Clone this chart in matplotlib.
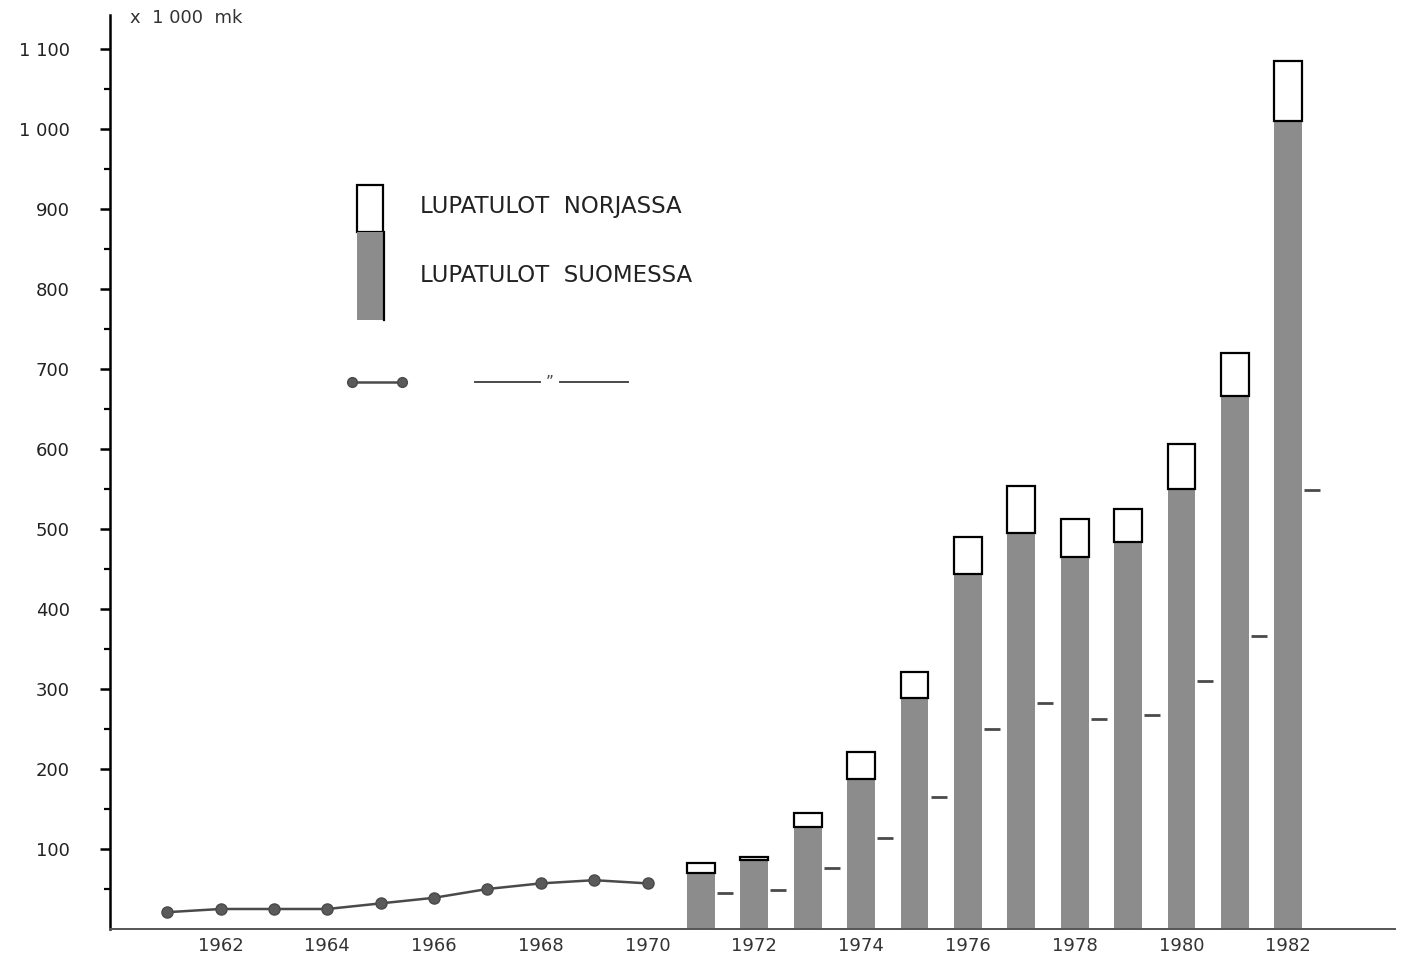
import matplotlib
matplotlib.use("Agg")
import matplotlib.pyplot as plt
from matplotlib.patches import Rectangle
from matplotlib.lines import Line2D

# Licence revenues, x 1000 mk
line_years = [1961, 1962, 1963, 1964, 1965, 1966, 1967, 1968, 1969, 1970]
line_values = [21, 25, 25, 25, 32, 39, 50, 57, 61, 57]

bar_years = [1971, 1972, 1973, 1974, 1975, 1976, 1977, 1978, 1979, 1980, 1981, 1982]
total_values = [82, 90, 145, 221, 321, 490, 554, 512, 525, 606, 720, 1084]  # Norja + Suomi
suomi_values = [70, 86, 128, 188, 289, 443, 495, 465, 484, 550, 666, 1009]
dash_values = [45, 49, 76, 114, 165, 250, 283, 263, 268, 310, 366, 549]

ytick_values = [100, 200, 300, 400, 500, 600, 700, 800, 900, 1000, 1100]
ytick_labels = ["100", "200", "300", "400", "500", "600", "700", "800", "900", "1 000", "1 100"]
xtick_years = [1962, 1964, 1966, 1968, 1970, 1972, 1974, 1976, 1978, 1980, 1982]

grey = "#8c8c8c"
dark = "#4a4a4a"

fig = plt.figure(figsize=(14.02, 9.56), dpi=100)
ax = fig.add_axes([110 / 1402, 27 / 956, 1285 / 1402, 914 / 956])
ax.set_xlim(1959.93, 1984.0)
ax.set_ylim(0, 1142)

# bars: grey part = Suomi, white box on top = Norja
norja = [t - s for t, s in zip(total_values, suomi_values)]
ax.bar(bar_years, suomi_values, width=0.52, color=grey, edgecolor="none", zorder=2)
ax.bar(bar_years, norja, bottom=suomi_values, width=0.52, color="white",
       edgecolor="black", linewidth=1.6, zorder=3)

# small dash markers beside each bar
ax.plot([y + 0.45 for y in bar_years], dash_values, linestyle="none", marker="_",
        markersize=12, markeredgewidth=2.0, color=dark, zorder=3)

# early years as line with dots
ax.plot(line_years, line_values, color=dark, linewidth=1.8, marker="o",
        markersize=8, markerfacecolor="#5a5a5a", markeredgecolor=dark, zorder=3)

# axes styling
for side in ["top", "right"]:
    ax.spines[side].set_visible(False)
ax.spines["left"].set_linewidth(1.8)
ax.spines["bottom"].set_linewidth(1.4)
ax.spines["bottom"].set_color("#555555")

ax.set_yticks(ytick_values)
ax.set_yticklabels(ytick_labels)
ax.set_yticks([50 + v for v in range(0, 1100, 100)], minor=True)
ax.tick_params(axis="y", which="major", length=7, width=1.8, pad=22,
               labelsize=13, labelcolor="#222222")
ax.tick_params(axis="y", which="minor", length=4, width=1.6)

ax.set_xticks(xtick_years)
ax.set_xticklabels([str(y) for y in xtick_years])
ax.tick_params(axis="x", length=0, pad=6, labelsize=13, labelcolor="#333333")

fig.text(130 / 1402, 1 - 18 / 956, "x  1 000  mk", fontsize=13, color="#333333",
         va="center", ha="left")

# hand-drawn legend
t = ax.transAxes
ax.add_patch(Rectangle((0.192, 0.7626), 0.0205, 0.0514, transform=t,
                       facecolor="white", edgecolor="black", linewidth=1.6, zorder=4))
ax.add_patch(Rectangle((0.192, 0.666), 0.021, 0.0966, transform=t,
                       facecolor=grey, edgecolor="none", zorder=4))
ax.add_line(Line2D([0.2135, 0.2135], [0.666, 0.7626], transform=t, color="black",
                   linewidth=1.6, zorder=5))
ax.text(0.241, 0.791, "LUPATULOT  NORJASSA", transform=t, fontsize=16.5,
        va="center", ha="left", color="#222222")
ax.text(0.241, 0.7155, "LUPATULOT  SUOMESSA", transform=t, fontsize=16.5,
        va="center", ha="left", color="#222222")
ax.add_line(Line2D([0.188, 0.227], [0.598, 0.598], transform=t, color=dark,
                   linewidth=1.8, marker="o", markersize=7,
                   markerfacecolor="#5a5a5a", markeredgecolor=dark))
ax.add_line(Line2D([0.284, 0.335], [0.598, 0.598], transform=t, color=dark, linewidth=1.4))
ax.add_line(Line2D([0.350, 0.403], [0.598, 0.598], transform=t, color=dark, linewidth=1.4))
ax.text(0.3425, 0.598, "\u201d", transform=t, fontsize=11, ha="center", va="center",
        color=dark)

fig.savefig("out.png", dpi=100)
